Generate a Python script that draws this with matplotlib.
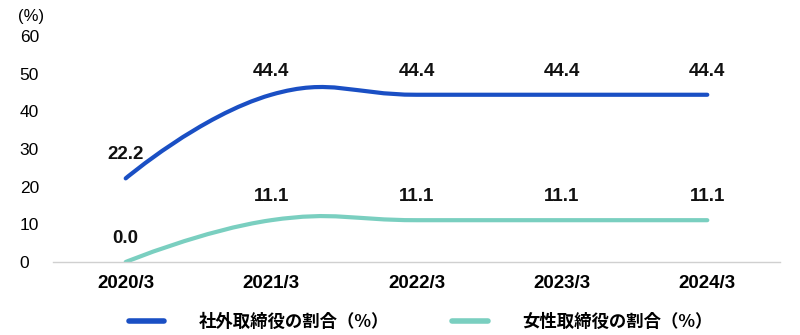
import numpy as np
import matplotlib.pyplot as plt
from matplotlib.path import Path
from matplotlib.patches import PathPatch
from matplotlib.lines import Line2D

plt.rcParams['font.family'] = ['Liberation Sans', 'Noto Sans CJK JP', 'DejaVu Sans']

categories = ['2020/3', '2021/3', '2022/3', '2023/3', '2024/3']
outside_ratio = [22.2, 44.4, 44.4, 44.4, 44.4]
female_ratio = [0.0, 11.1, 11.1, 11.1, 11.1]
series_names = ['社外取締役の割合（%）', '女性取締役の割合（%）']
series_colors = ['#1a4fc4', '#7acfc0']
y_ticks = [0, 10, 20, 30, 40, 50, 60]


def smooth_path(xs, ys, sx, sy, smooth=0.5):
    # bezier control points like a cardinal spline, computed in pixel-ish space
    px = np.asarray(xs, float) * sx
    py = np.asarray(ys, float) * sy
    n = len(px)
    verts = [(px[0], py[0])]
    codes = [Path.MOVETO]
    cps = []
    for i in range(n):
        if i == 0 or i == n - 1:
            cps.append(((px[i], py[i]), (px[i], py[i])))
            continue
        vx, vy = px[i + 1] - px[i - 1], py[i + 1] - py[i - 1]
        d0 = np.hypot(px[i] - px[i - 1], py[i] - py[i - 1])
        d1 = np.hypot(px[i + 1] - px[i], py[i + 1] - py[i])
        r0 = d0 / (d0 + d1)
        r1 = d1 / (d0 + d1)
        cin = (px[i] - vx * smooth * r0, py[i] - vy * smooth * r0)
        cout = (px[i] + vx * smooth * r1, py[i] + vy * smooth * r1)
        cps.append((cin, cout))
    for i in range(1, n):
        verts += [cps[i - 1][1], cps[i][0], (px[i], py[i])]
        codes += [Path.CURVE4] * 3
    verts = [(vx / sx, vy / sy) for vx, vy in verts]
    return Path(verts, codes)


fig = plt.figure(figsize=(8, 3.35), dpi=100)
ax = fig.add_axes([53 / 800, (335 - 262) / 335, 727 / 800, 226 / 335])

x = np.arange(len(categories))
for vals, color in zip([outside_ratio, female_ratio], series_colors):
    path = smooth_path(x, vals, 145.0, 3.77, smooth=0.45)
    ax.add_patch(PathPatch(path, facecolor='none', edgecolor=color, lw=3,
                           capstyle='round', joinstyle='round'))
    for xi, v in zip(x, vals):
        ax.annotate(f'{v:.1f}', (xi, v), xytext=(0, 17), textcoords='offset points',
                    ha='center', va='center', fontsize=13.5, fontweight='bold', color='#111111')

ax.set_xlim(-0.5, len(categories) - 0.5)
ax.set_ylim(0, 60)
ax.set_xticks(x)
ax.set_xticklabels(categories, fontsize=13.5, fontweight='bold')
ax.set_yticks(y_ticks)
ax.set_yticklabels([str(t) for t in y_ticks], fontsize=12.5)
for lab in ax.get_yticklabels():
    lab.set_horizontalalignment('left')
ax.tick_params(axis='y', length=0, pad=24)
ax.tick_params(axis='x', length=0, pad=9)
for s in ['top', 'right', 'left']:
    ax.spines[s].set_visible(False)
ax.spines['bottom'].set_color('#d0d0d0')
ax.spines['bottom'].set_linewidth(1)

fig.text(18 / 800, 1 - 17 / 335, '(%)', fontsize=12, va='center', ha='left')

handles = [Line2D([], [], color=c, lw=4, solid_capstyle='round') for c in series_colors]
fig.legend(handles, series_names, loc='center', bbox_to_anchor=(0.526, 1 - 322 / 335),
           ncol=2, frameon=False, handlelength=2.05, handletextpad=2.0, columnspacing=3.6,
           prop={'size': 12.5, 'weight': 'bold', 'family': ['Noto Sans CJK JP', 'DejaVu Sans']})

fig.savefig('out.png', dpi=100)
